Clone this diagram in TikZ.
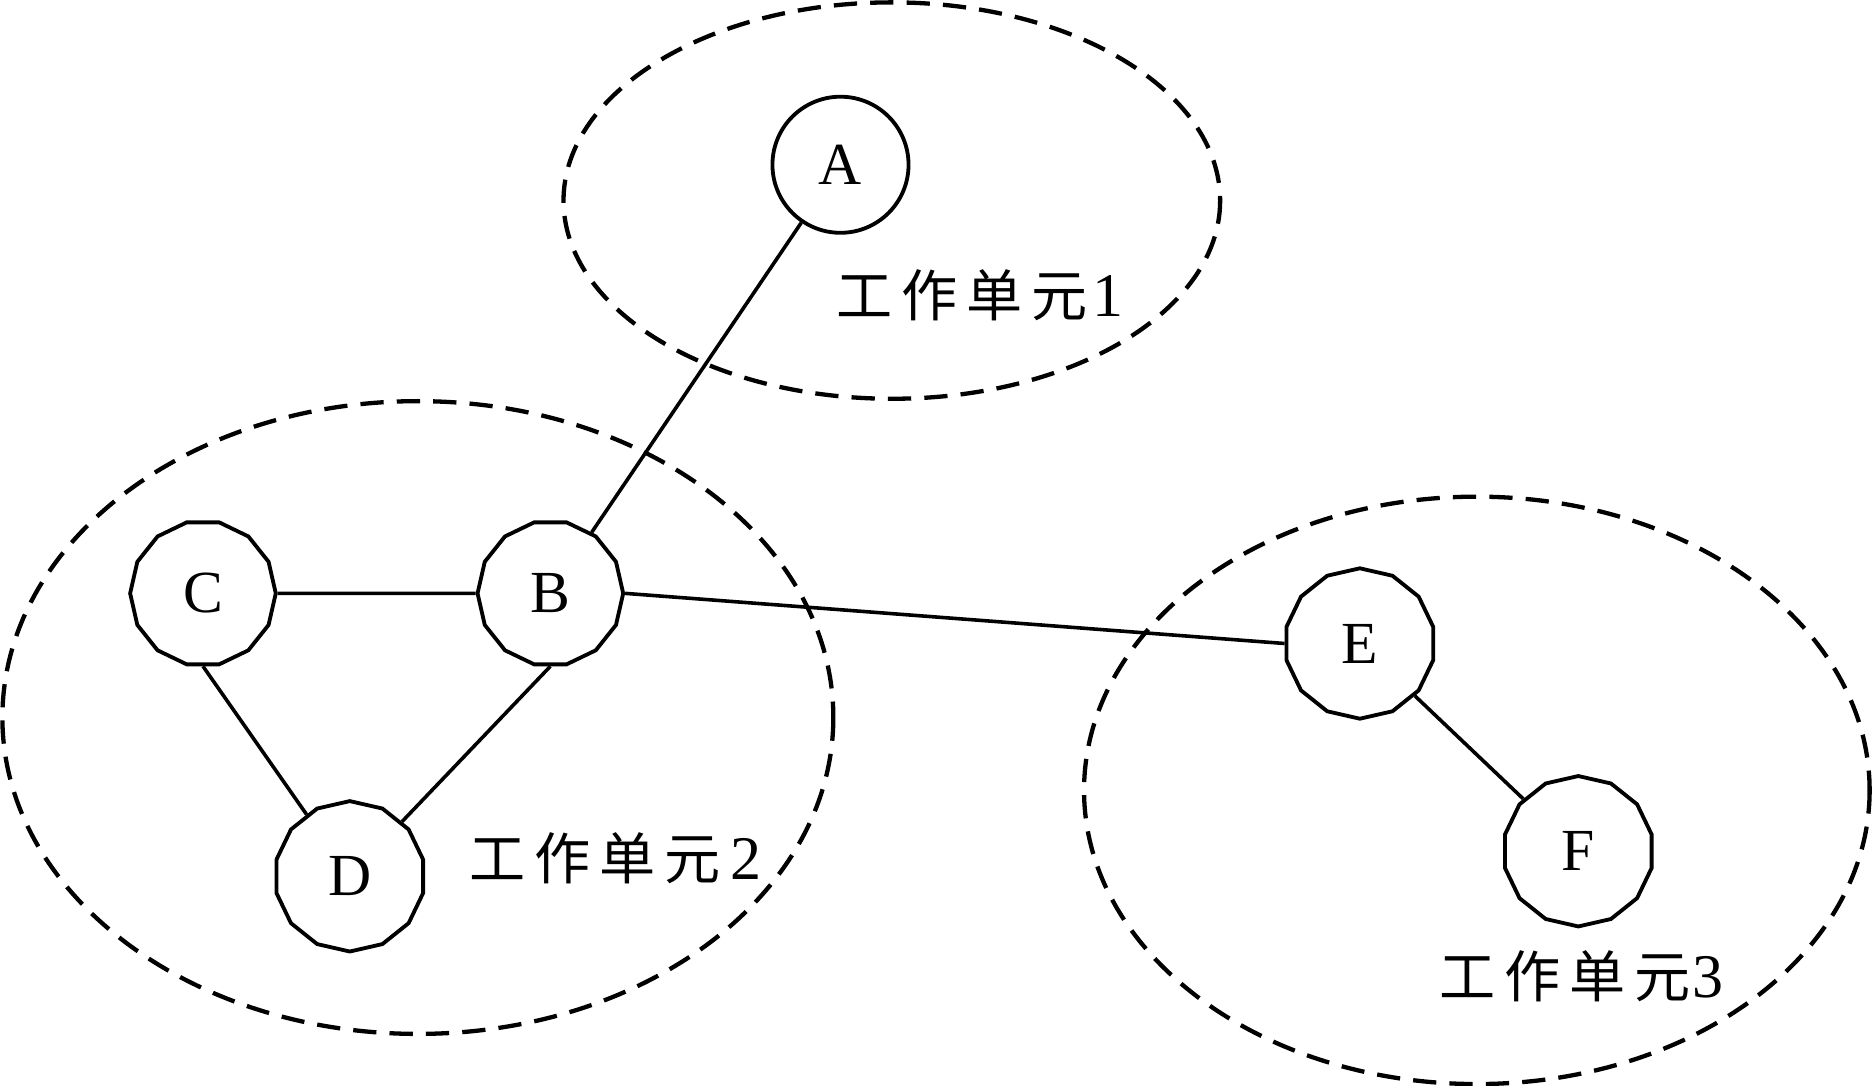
\documentclass[tikz,border=0pt]{standalone}
\usepackage{fontspec}
\setmainfont{Liberation Serif}
\newfontfamily\cjk[LetterSpace=16]{Noto Sans CJK SC}
\usetikzlibrary{shapes}

\begin{document}
\begin{tikzpicture}[x=0.5pt,y=-0.5pt]

\tikzstyle{host} = [circle, draw, line width=1.6pt, minimum size=57pt, inner sep=0pt, font=\fontsize{25}{30}\selectfont]
\tikzstyle{station} = [regular polygon, regular polygon sides=14, draw, line width=1.6pt, minimum size=61pt, inner sep=0pt, font=\fontsize{25}{30}\selectfont]
\tikzstyle{tilted} = [regular polygon rotate=12.86, minimum size=63pt]
\tikzstyle{unitring} = [line width=1.8pt, dash pattern=on 9.75pt off 5.5pt]
\tikzstyle{unitlabel} = [anchor=west, inner sep=0pt, font=\fontsize{26}{30}\selectfont]
\tikzstyle{link} = [line width=1.5pt]

\useasboundingbox (0,0) rectangle (1568,909.6);

\draw [unitring] (747,168) ellipse [x radius=275, y radius=166];
\draw [unitring] (350,601) ellipse [x radius=348, y radius=265];
\draw [unitring] (1237,662) ellipse [x radius=329, y radius=246];

\node (A) [host] at (704,138) {A};
\node (C) [station] at (170,497) {C};
\node (B) [station] at (461,497) {B};
\node (D) [station, tilted] at (293,734) {D};
\node (E) [station, tilted] at (1139,539) {E};
\node (F) [station, tilted] at (1322,713) {F};

\node (unit1) [unitlabel] at (700,247) {{\cjk\fontsize{23.5}{30}\selectfont 工作单元}\kern2pt 1};
\node (unit2) [unitlabel] at (393,719) {{\cjk\fontsize{23.5}{30}\selectfont 工作单元}\kern4pt 2};
\node (unit3) [unitlabel] at (1205,818) {{\cjk\fontsize{23.5}{30}\selectfont 工作单元}\kern1pt 3};

\draw [link] (A) -- (B);
\draw [link] (C.east) -- (B.west);
\draw [link] (C.south) -- (D);
\draw [link] (B.south) -- (D);
\draw [link] (B.east) -- (E.west);
\draw [link] (E) -- (F);

\end{tikzpicture}
\end{document}
